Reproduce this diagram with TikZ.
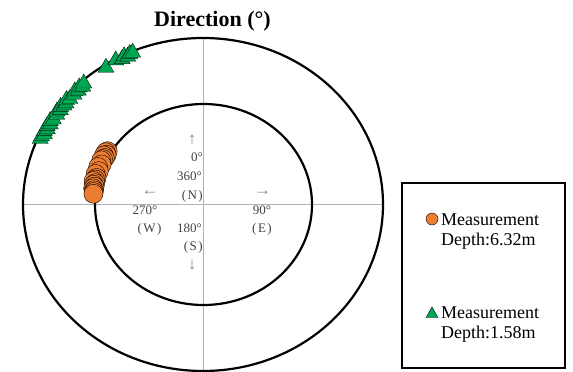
\documentclass[tikz,border=0pt]{standalone}
\usepackage{fontspec}
\setmainfont{Liberation Serif}
\usepackage{tikz}
\definecolor{dotorange}{RGB}{237,125,49}
\definecolor{trigreen}{RGB}{0,166,81}
\def\cpiece{circle (9.5pt)}
\def\tpiece{++(0pt,8pt) -- ++(8pt,-14pt) -- ++(-16pt,0pt) -- cycle}

\begin{document}
\begin{tikzpicture}[x=1pt,y=-1pt,
    ring/.style={line width=2.2pt},
    axis/.style={draw=black!30,line width=0.8pt},
    dot/.style={fill=dotorange,draw=black,line width=0.4pt},
    tri/.style={fill=trigreen,draw=black!80!trigreen,line width=0.4pt},
    lbl/.style={font=\fontsize{13}{13}\selectfont,text=black!75,inner sep=0pt},
    arw/.style={font=\fontsize{17}{17}\selectfont,text=black!45,inner sep=0pt},
    leg/.style={font=\fontsize{18}{18}\selectfont,inner sep=0pt}]
    \useasboundingbox (0,0) rectangle (573,372);
    \node[font=\fontsize{22}{22}\selectfont\bfseries,anchor=base,inner sep=0pt] (title) at (212.5,26.7) {Direction (°)};
                \begin{scope}[shift={(203,204.5)},x=180pt,y=166.5pt]
                    \draw[axis] (-1,0) -- (1,0);
                    \draw[axis] (0,1) -- (0,-1);
                    \draw[ring] (0,0) ellipse [x radius=1, y radius=1];
                \end{scope}
                \begin{scope}[shift={(203.5,204.5)},x=108.5pt,y=100.5pt]
                    \draw[ring] (0,0) ellipse [x radius=1, y radius=1];
                \end{scope}
    \node[arw] (up) at (192,140) {↑};
    \node[lbl,anchor=base east] (zero) at (203,161) {0°};
    \node[lbl,anchor=base east] (full) at (202,180.7) {360°};
    \node[lbl,anchor=base east] (north) at (203,199) {(\kern1.5pt N\kern1.5pt)};
    \node[arw] (left) at (150,192.7) {←};
    \node[arw] (right) at (262.5,192.7) {→};
    \node[lbl,anchor=base] (west) at (145,214) {270°};
    \node[lbl,anchor=base] (westtag) at (149.5,232.7) {(\kern1.5pt W\kern1.5pt)};
    \node[lbl,anchor=base east] (half) at (202,232.7) {180°};
    \node[lbl,anchor=base east] (south) at (203,250.7) {(\kern1.5pt S\kern1.5pt)};
    \node[arw] (down) at (192,265) {↓};
    \node[lbl,anchor=base] (east) at (262,214) {90°};
    \node[lbl,anchor=base] (easttag) at (262,232.7) {(\kern1.5pt E\kern1.5pt)};
                \begin{scope}[shift={(203.5,204.5)},x=108.5pt,y=100.5pt]
                    \filldraw[dot] (149:1.03) \cpiece;
                    \filldraw[dot] (150:1.04) \cpiece;
                    \filldraw[dot] (151:1.02) \cpiece;
                    \filldraw[dot] (152:1.04) \cpiece;
                    \filldraw[dot] (153:1.02) \cpiece;
                    \filldraw[dot] (154:1.03) \cpiece;
                    \filldraw[dot] (155:1.04) \cpiece;
                    \filldraw[dot] (157:1.02) \cpiece;
                    \filldraw[dot] (159:1.04) \cpiece;
                    \filldraw[dot] (161:1.02) \cpiece;
                    \filldraw[dot] (163:1.04) \cpiece;
                    \filldraw[dot] (165:1.02) \cpiece;
                    \filldraw[dot] (166:1.03) \cpiece;
                    \filldraw[dot] (167:1.04) \cpiece;
                    \filldraw[dot] (168:1.02) \cpiece;
                    \filldraw[dot] (169:1.03) \cpiece;
                    \filldraw[dot] (170:1.02) \cpiece;
                    \filldraw[dot] (171:1.03) \cpiece;
                    \filldraw[dot] (172:1.02) \cpiece;
                    \filldraw[dot] (173:1.02) \cpiece;
                    \filldraw[dot] (174:1.02) \cpiece;
                \end{scope}
                \begin{scope}[shift={(203,204.5)},x=180pt,y=166.5pt]
                    \filldraw[tri] (156:0.99) \tpiece;
                    \filldraw[tri] (155:0.99) \tpiece;
                    \filldraw[tri] (154:0.98) \tpiece;
                    \filldraw[tri] (153:0.99) \tpiece;
                    \filldraw[tri] (152:0.98) \tpiece;
                    \filldraw[tri] (151:0.99) \tpiece;
                    \filldraw[tri] (150:0.98) \tpiece;
                    \filldraw[tri] (149:0.99) \tpiece;
                    \filldraw[tri] (148:0.98) \tpiece;
                    \filldraw[tri] (146:0.98) \tpiece;
                    \filldraw[tri] (145:0.99) \tpiece;
                    \filldraw[tri] (144:0.98) \tpiece;
                    \filldraw[tri] (143:0.99) \tpiece;
                    \filldraw[tri] (142:0.98) \tpiece;
                    \filldraw[tri] (141:0.98) \tpiece;
                    \filldraw[tri] (140:0.99) \tpiece;
                    \filldraw[tri] (139:0.98) \tpiece;
                    \filldraw[tri] (137:0.98) \tpiece;
                    \filldraw[tri] (136:0.99) \tpiece;
                    \filldraw[tri] (135:0.98) \tpiece;
                    \filldraw[tri] (134:0.99) \tpiece;
                    \filldraw[tri] (133:0.98) \tpiece;
                    \filldraw[tri] (132:0.99) \tpiece;
                    \filldraw[tri] (123:0.99) \tpiece;
                    \filldraw[tri] (119:1.00) \tpiece;
                    \filldraw[tri] (117:0.99) \tpiece;
                    \filldraw[tri] (116:1.00) \tpiece;
                    \filldraw[tri] (115:0.99) \tpiece;
                    \filldraw[tri] (114:1.00) \tpiece;
                    \filldraw[tri] (113:1.00) \tpiece;
                \end{scope}
    \draw[line width=2pt] (402,183) rectangle (565,368);
    \filldraw[dot] (432,219) circle (6pt);
    \node[leg,anchor=base west] (meas1) at (441,225.5) {Measurement};
    \node[leg,anchor=base west] (depth1) at (441,245.5) {Depth:6.32m};
    \filldraw[tri] (432,313) ++(0pt,6pt) -- ++(6pt,-10.5pt) -- ++(-12pt,0pt) -- cycle;
    \node[leg,anchor=base west] (meas2) at (441,318) {Measurement};
    \node[leg,anchor=base west] (depth2) at (441,338) {Depth:1.58m};
\end{tikzpicture}
\end{document}
